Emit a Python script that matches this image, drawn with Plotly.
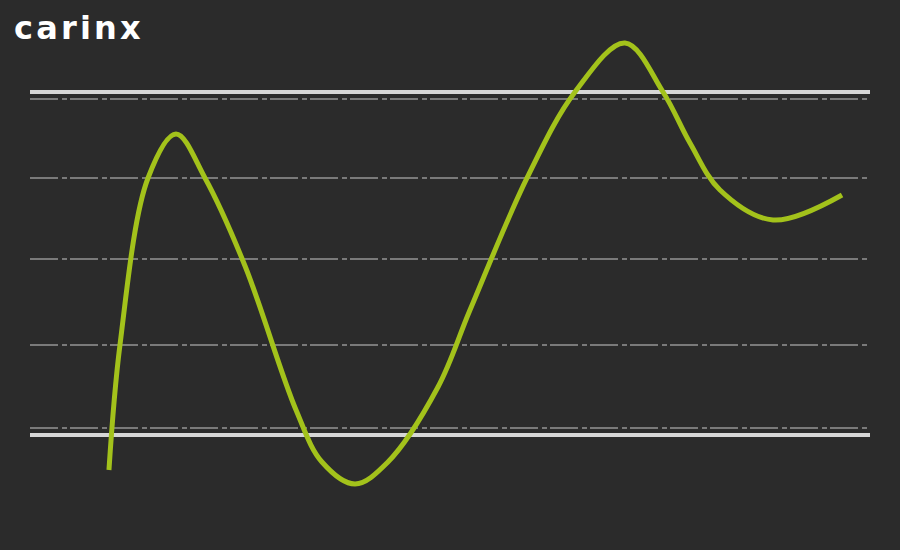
import plotly.graph_objects as go

# Curve values (x: 0..100 across the lines, y: 0 = lower white line, 100 = upper white line)
x_vals = [9.40, 10.71, 14.05, 17.38, 20.83, 25.60, 31.67, 34.76, 38.69, 42.50,
          48.57, 52.38, 59.17, 64.88, 70.83, 75.36, 78.57, 82.14, 88.45, 96.67]
y_vals = [-10.20, 26.24, 74.93, 87.76, 74.93, 49.27, 7.29, -7.87, -14.29, -8.16,
          13.99, 36.44, 74.93, 100.0, 114.29, 100.0, 85.13, 71.43, 62.68, 69.97]

grid_levels = [2.0, 26.2, 51.3, 74.9, 98.0]
band_levels = [0, 100]
logo_text = "c\u200aa\u200ar\u200ai\u200an\u200ax"

BG = "#2b2b2b"
GREEN = "#a3c21b"

fig = go.Figure()
fig.add_trace(go.Scatter(
    x=x_vals, y=y_vals, mode="lines",
    line=dict(color=GREEN, width=5, shape="spline", smoothing=1.0),
    hoverinfo="skip", showlegend=False,
))

for lv in band_levels:
    fig.add_shape(type="line", xref="paper", yref="y", x0=0, x1=1, y0=lv, y1=lv,
                  line=dict(color="#d6d6d6", width=4), layer="below")

fig.add_annotation(text=logo_text, xref="paper", yref="paper",
                   x=-0.0214, y=0.95, xanchor="left", yanchor="middle",
                   showarrow=False,
                   font=dict(family="DejaVu Sans", size=32, color="#ffffff", weight="bold"))

fig.update_layout(
    width=900, height=550,
    paper_bgcolor=BG, plot_bgcolor=BG,
    margin=dict(l=30, r=30, t=0, b=0),
    xaxis=dict(range=[0, 100], showgrid=False, zeroline=False, showticklabels=False,
               showline=False, ticks=""),
    yaxis=dict(range=[-33.53, 126.82], tickvals=grid_levels, showgrid=True,
               gridcolor="#7a7a7a", gridwidth=1.5, griddash="28px,4px,5px,3px",
               zeroline=False, showticklabels=False, showline=False, ticks=""),
    showlegend=False,
)

fig.write_html("out.html", config={"displayModeBar": False},
               post_script="document.body.style.margin='0';document.body.style.background='#2b2b2b';")
